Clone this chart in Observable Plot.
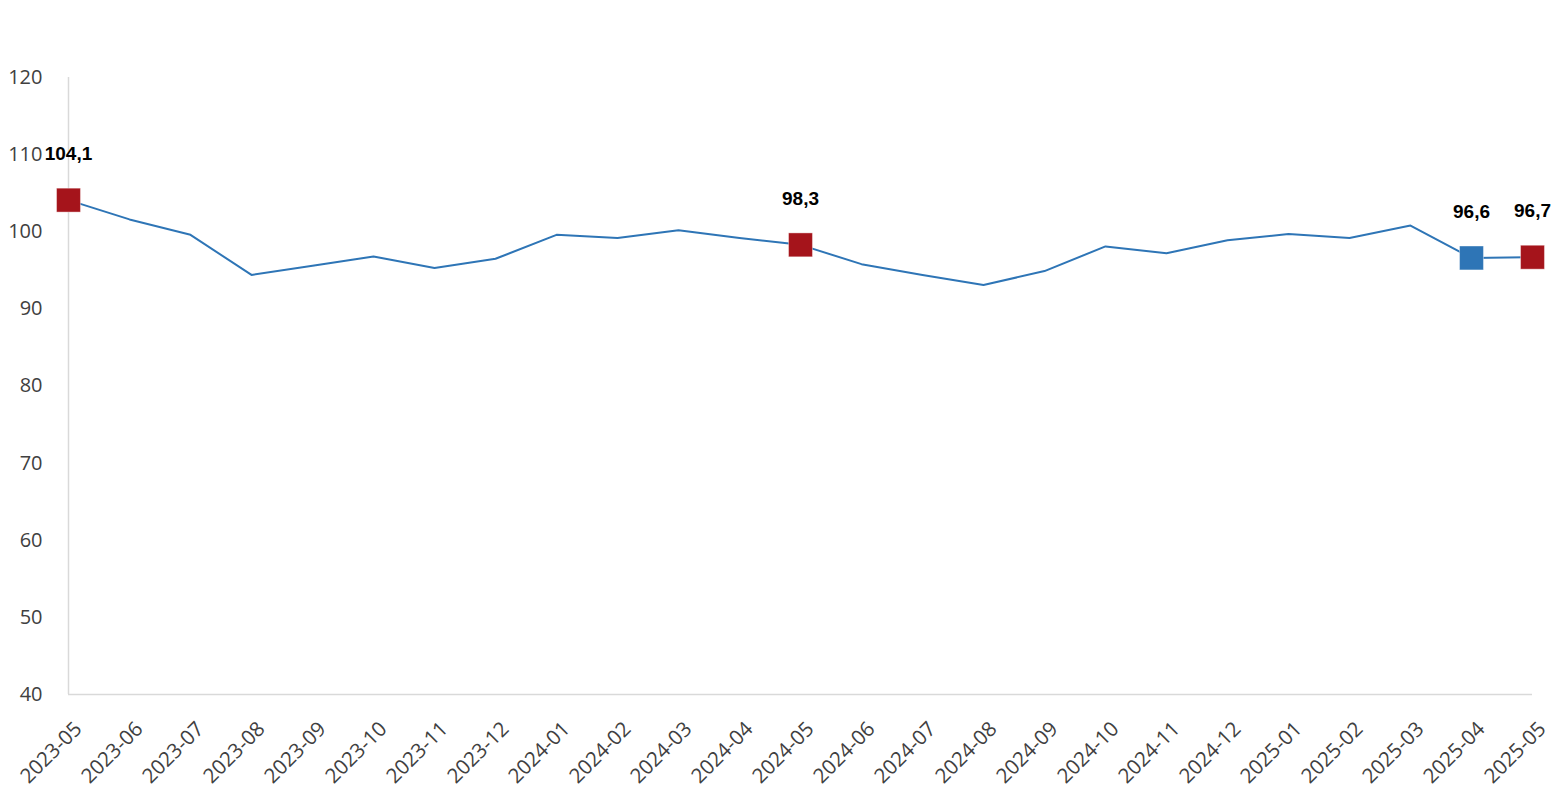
<!DOCTYPE html>
<html>
<head>
<meta charset="utf-8">
<script src="https://cdn.jsdelivr.net/npm/d3@7"></script>
<script src="https://cdn.jsdelivr.net/npm/@observablehq/plot@0.6"></script>
<style>
  body { margin: 0; background: #fff; }
  svg { display: block; }
</style>
</head>
<body>
<div id="chart"></div>
<script>
const months = ["2023-05","2023-06","2023-07","2023-08","2023-09","2023-10","2023-11","2023-12",
  "2024-01","2024-02","2024-03","2024-04","2024-05","2024-06","2024-07","2024-08","2024-09","2024-10",
  "2024-11","2024-12","2025-01","2025-02","2025-03","2025-04","2025-05"];
const values = [104.1,101.6,99.6,94.4,95.6,96.8,95.3,96.5,99.6,99.2,100.2,99.2,98.3,95.8,94.4,93.1,94.9,98.1,
  97.2,98.9,99.7,99.2,100.8,96.6,96.7];
const highlightMonths = ["2023-05","2024-05","2025-04","2025-05"];
const highlightColors = ["#a5141b","#a5141b","#2e75b6","#a5141b"];
const yTicks = [40,50,60,70,80,90,100,110,120];

const data = months.map((m, i) => ({month: m, value: values[i]}));
const highlights = highlightMonths.map((m, i) => ({month: m, value: values[months.indexOf(m)], color: highlightColors[i]}));
const fmt = v => v.toFixed(1).replace(".", ",");

const chart = Plot.plot({
  width: 1557,
  height: 800,
  marginLeft: 68,
  marginRight: 25,
  marginTop: 77,
  marginBottom: 106,
  style: {fontFamily: "'Open Sans', sans-serif", background: "#fff"},
  x: {type: "point", domain: months, padding: 0, label: null},
  y: {domain: [40, 120], label: null},
  marks: [
    Plot.ruleX([months[0]], {stroke: "#d9d9d9", strokeWidth: 1.5}),
    Plot.ruleY([40], {stroke: "#d9d9d9", strokeWidth: 1.5}),
    Plot.axisY({ticks: yTicks, tickSize: 0, tickPadding: 26, fontSize: 20, fill: "#404040", label: null}),
    Plot.axisX({tickSize: 0, tickRotate: -45, tickPadding: 31, dx: 10, fontSize: 20.5, fill: "#404040", label: null}),
    Plot.lineY(data, {x: "month", y: "value", stroke: "#2e75b6", strokeWidth: 2}),
    Plot.dot(highlights, {x: "month", y: "value", symbol: "square", r: 13.5, fill: "color", stroke: "#ffffff", strokeOpacity: 0.4, strokeWidth: 1}),
    Plot.text(highlights, {x: "month", y: "value", text: d => fmt(d.value), dy: -46, fontSize: 19, fontWeight: "bold", fill: "#000", fontFamily: "'Liberation Sans', Arial, sans-serif"})
  ]
});
document.getElementById("chart").append(chart);
</script>
</body>
</html>
